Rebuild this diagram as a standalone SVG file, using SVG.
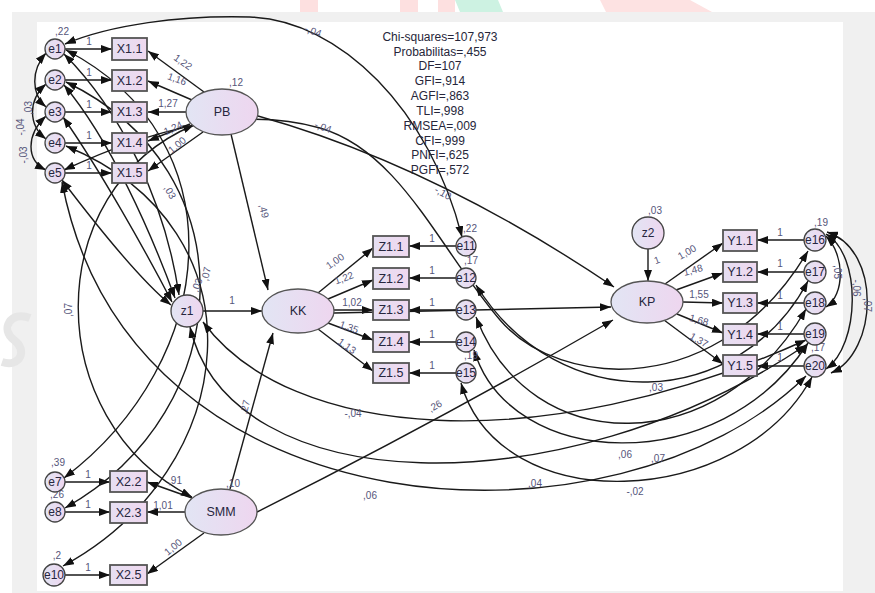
<svg xmlns="http://www.w3.org/2000/svg" width="875" height="593" viewBox="0 0 875 593">
<defs>
<linearGradient id="lg" x1="0" y1="0" x2="1" y2="0"><stop offset="0" stop-color="#e2e5f4"/><stop offset="1" stop-color="#eed6ef"/></linearGradient>
<linearGradient id="bg" x1="0" y1="0" x2="1" y2="0"><stop offset="0" stop-color="#e6dff2"/><stop offset="1" stop-color="#efd8ef"/></linearGradient>
<marker id="ah" viewBox="0 0 11 8" refX="11" refY="4" markerWidth="11" markerHeight="8" markerUnits="userSpaceOnUse" orient="auto-start-reverse"><path d="M0,0 L11,4 L0,8 z" fill="#111"/></marker>
<style>
.ln{fill:none;stroke:#1a1a1a;stroke-width:1.4;marker-end:url(#ah)}
.cv{fill:none;stroke:#1a1a1a;stroke-width:1.4;marker-start:url(#ah);marker-end:url(#ah)}
.box{fill:url(#bg);stroke:#555;stroke-width:1.8}
.ell{fill:url(#lg);stroke:#555;stroke-width:1.3}
.cir{fill:url(#lg);stroke:#444;stroke-width:1.3}
.nt{font-family:"Liberation Sans",Arial,sans-serif;font-size:12.5px;fill:#26263e;text-anchor:middle;dominant-baseline:central}
.et{font-family:"Liberation Sans",Arial,sans-serif;font-size:12px;fill:#26263e;text-anchor:middle;dominant-baseline:central}
.pl{font-family:"Liberation Sans",Arial,sans-serif;font-size:10px;fill:#55557a;text-anchor:middle;dominant-baseline:central}
.st{font-family:"Liberation Sans",Arial,sans-serif;font-size:12px;fill:#26263a;text-anchor:middle}
</style>
</defs>
<rect x="0" y="0" width="875" height="593" fill="#ffffff"/>
<rect x="300" y="0" width="155" height="12" fill="#fde0e0"/>
<rect x="318" y="0" width="82" height="12" fill="#ffffff"/>
<rect x="418" y="0" width="20" height="12" fill="#ffffff"/>
<polygon points="455,0 498,0 503,12 460,12" fill="#cdf2e2"/>
<polygon points="600,0 690,0 712,12 606,12" fill="#fde2e2"/>
<rect x="12" y="12" width="863" height="581" fill="#f0f0f0"/>
<rect x="37" y="22" width="806" height="569" fill="#ffffff"/>
<path d="M30,318 C10,310 0,330 14,340 C28,350 20,368 2,362" fill="none" stroke="#e6e6e6" stroke-width="8"/>

<g id="connectors">
<path class="ln" d="M65,49 L112,49"/>
<path class="ln" d="M65,80 L112,80"/>
<path class="ln" d="M65,112 L112,112"/>
<path class="ln" d="M65,143 L112,143"/>
<path class="ln" d="M65,173 L112,173"/>
<path class="ln" d="M204,92 L148,51"/>
<path class="ln" d="M192,100 L148,81"/>
<path class="ln" d="M186,112 L148,112"/>
<path class="ln" d="M190,124 L148,141"/>
<path class="ln" d="M203,132 L148,171"/>
<path class="ln" d="M318,293 L373,248"/>
<path class="ln" d="M328,299 L373,280"/>
<path class="ln" d="M334,310 L373,310"/>
<path class="ln" d="M328,323 L373,340"/>
<path class="ln" d="M318,329 L373,371"/>
<path class="ln" d="M456,246 L409,246"/>
<path class="ln" d="M456,278 L409,278"/>
<path class="ln" d="M456,310 L409,310"/>
<path class="ln" d="M456,342 L409,342"/>
<path class="ln" d="M456,373 L409,373"/>
<path class="ln" d="M665,284 L723,243"/>
<path class="ln" d="M676,290 L723,273"/>
<path class="ln" d="M683,302 L723,303"/>
<path class="ln" d="M677,314 L723,333"/>
<path class="ln" d="M664,320 L723,364"/>
<path class="ln" d="M804,240 L757,240"/>
<path class="ln" d="M804,272 L757,272"/>
<path class="ln" d="M804,303 L757,303"/>
<path class="ln" d="M804,334 L757,334"/>
<path class="ln" d="M804,366 L757,366"/>
<path class="ln" d="M192,498 L147,482"/>
<path class="ln" d="M185,512 L147,512"/>
<path class="ln" d="M204,533 L147,574"/>
<path class="ln" d="M65,482 L110,482"/>
<path class="ln" d="M65,512 L110,512"/>
<path class="ln" d="M65,575 L110,575"/>
<path class="ln" d="M203,311 L262,311"/>
<path class="ln" d="M648,249 L648,281"/>
<path class="ln" d="M231,134 L268,290"/>
<path class="ln" d="M230,489 L273,333"/>
<path class="ln" d="M334,313 L611,307"/>
<path class="ln" d="M258,116 C380,150 500,210 614,287"/>
<path class="ln" d="M257,512 Q440,420 613,320"/>
<path class="cv" d="M46,53 C31,70 31,94 46,107"/>
<path class="cv" d="M46,84 C28,100 28,125 46,139"/>
<path class="cv" d="M46,116 C26,135 26,160 46,170"/>
<path class="cv" d="M64,54 C120,110 165,200 179,295"/>
<path class="cv" d="M64,85 C110,140 150,230 175,298"/>
<path class="cv" d="M63,117 C100,170 145,250 172,302"/>
<path class="cv" d="M62,180 C100,230 140,280 171,305"/>
<path class="cv" d="M66,50 C240,140 220,360 64,478"/>
<path class="cv" d="M66,82 C250,170 240,410 65,508"/>
<path class="cv" d="M66,146 C270,230 240,470 63,566"/>
<path class="cv" d="M194,125 C40,190 40,420 192,497"/>
<path class="cv" d="M65,44 C110,25 180,15 250,17 C340,20 430,110 462,237"/>
<path class="cv" d="M64,170 C150,130 240,105 320,128 C400,151 440,250 500,320 C560,390 720,400 808,251"/>
<path class="cv" d="M203,322 C290,440 540,460 806,340"/>
<path class="cv" d="M62,182 C130,540 620,560 806,376"/>
<path class="cv" d="M190,327 C230,500 560,510 806,345"/>
<path class="cv" d="M461,383 C500,520 740,510 812,377"/>
<path class="cv" d="M474,350 C510,470 720,480 808,343"/>
<path class="cv" d="M476,317 C530,460 720,460 806,309"/>
<path class="cv" d="M476,285 C560,420 740,410 808,281"/>
<path class="cv" d="M826,236 C845,255 845,295 826,307"/>
<path class="cv" d="M826,234 C862,255 860,345 826,369"/>
<path class="cv" d="M827,232 C882,250 878,352 831,373"/>
</g>

<g id="labels">
<text class="pl" x="62" y="31">,22</text>
<text class="pl" x="236" y="82">,12</text>
<text class="pl" x="89" y="41">1</text>
<text class="pl" x="89" y="72">1</text>
<text class="pl" x="89" y="104">1</text>
<text class="pl" x="89" y="135">1</text>
<text class="pl" x="89" y="165">1</text>
<text class="pl" transform="translate(183,62) rotate(35)">1,22</text>
<text class="pl" transform="translate(177,79) rotate(20)">1,16</text>
<text class="pl" x="168" y="103">1,27</text>
<text class="pl" transform="translate(173,128) rotate(-25)">1,24</text>
<text class="pl" transform="translate(177,145) rotate(-40)">1,00</text>
<text class="pl" transform="translate(28,108) rotate(-90)">,03</text>
<text class="pl" transform="translate(20,127) rotate(-90)">-,04</text>
<text class="pl" transform="translate(23,155) rotate(-90)">-,03</text>
<text class="pl" transform="translate(313,31) rotate(20)">-,04</text>
<text class="pl" transform="translate(323,127) rotate(20)">-,04</text>
<text class="pl" transform="translate(443,193) rotate(30)">-,10</text>
<text class="pl" transform="translate(170,192) rotate(60)">,03</text>
<text class="pl" transform="translate(197,285) rotate(-70)">,03</text>
<text class="pl" transform="translate(206,274) rotate(-78)">,07</text>
<text class="pl" transform="translate(264,211) rotate(76)">,49</text>
<text class="pl" x="232" y="300">1</text>
<text class="pl" transform="translate(68,310) rotate(-90)">,07</text>
<text class="pl" transform="translate(245,407) rotate(-75)">,27</text>
<text class="pl" transform="translate(435,406) rotate(-30)">,26</text>
<text class="pl" x="353" y="413">-,04</text>
<text class="pl" x="370" y="495">,06</text>
<text class="pl" x="535" y="483">,04</text>
<text class="pl" x="656" y="387">,03</text>
<text class="pl" x="625" y="454">,06</text>
<text class="pl" x="658" y="458">,07</text>
<text class="pl" x="635" y="491">-,02</text>
<text class="pl" x="655" y="210">,03</text>
<text class="pl" transform="translate(657,260) rotate(-20)">1</text>
<text class="pl" x="470" y="228">,22</text>
<text class="pl" x="471" y="260">,17</text>
<text class="pl" x="471" y="355">,19</text>
<text class="pl" x="432" y="238">1</text>
<text class="pl" x="432" y="270">1</text>
<text class="pl" x="432" y="302">1</text>
<text class="pl" x="432" y="334">1</text>
<text class="pl" x="432" y="365">1</text>
<text class="pl" transform="translate(335,261) rotate(-35)">1,00</text>
<text class="pl" transform="translate(344,278) rotate(-20)">1,22</text>
<text class="pl" x="352" y="302">1,02</text>
<text class="pl" transform="translate(349,327) rotate(20)">1,35</text>
<text class="pl" transform="translate(347,346) rotate(35)">1,13</text>
<text class="pl" transform="translate(687,252) rotate(-30)">1,00</text>
<text class="pl" transform="translate(693,270) rotate(-15)">1,48</text>
<text class="pl" x="699" y="294">1,55</text>
<text class="pl" transform="translate(699,320) rotate(15)">1,68</text>
<text class="pl" transform="translate(699,340) rotate(30)">1,37</text>
<text class="pl" x="780" y="232">1</text>
<text class="pl" x="780" y="263">1</text>
<text class="pl" x="780" y="295">1</text>
<text class="pl" x="780" y="326">1</text>
<text class="pl" x="780" y="357">1</text>
<text class="pl" x="821" y="222">,19</text>
<text class="pl" x="818" y="347">,17</text>
<text class="pl" transform="translate(837,272) rotate(90)">,05</text>
<text class="pl" transform="translate(856,288) rotate(90)">-,06</text>
<text class="pl" transform="translate(867,305) rotate(90)">,07</text>
<text class="pl" x="233" y="483">,10</text>
<text class="pl" x="175" y="480">,91</text>
<text class="pl" x="163" y="505">1,01</text>
<text class="pl" transform="translate(173,547) rotate(-40)">1,00</text>
<text class="pl" x="58" y="462">,39</text>
<text class="pl" x="57" y="494">,26</text>
<text class="pl" x="57" y="555">,2</text>
<text class="pl" x="88" y="474">1</text>
<text class="pl" x="88" y="504">1</text>
<text class="pl" x="88" y="567">1</text>
</g>

<g id="fit">
<text class="st" x="440" y="41">Chi-squares=107,973</text>
<text class="st" x="440" y="56">Probabilitas=,455</text>
<text class="st" x="440" y="70">DF=107</text>
<text class="st" x="440" y="85">GFI=,914</text>
<text class="st" x="440" y="100">AGFI=,863</text>
<text class="st" x="440" y="115">TLI=,998</text>
<text class="st" x="440" y="130">RMSEA=,009</text>
<text class="st" x="440" y="145">CFI=,999</text>
<text class="st" x="440" y="159">PNFI=,625</text>
<text class="st" x="440" y="174">PGFI=,572</text>
</g>

<g id="e1"><circle class="cir" cx="55" cy="49" r="10"/><text class="et" x="55" y="49">e1</text></g>
<g id="e2"><circle class="cir" cx="55" cy="80" r="10"/><text class="et" x="55" y="80">e2</text></g>
<g id="e3"><circle class="cir" cx="55" cy="112" r="10"/><text class="et" x="55" y="112">e3</text></g>
<g id="e4"><circle class="cir" cx="55" cy="143" r="10"/><text class="et" x="55" y="143">e4</text></g>
<g id="e5"><circle class="cir" cx="55" cy="173" r="10"/><text class="et" x="55" y="173">e5</text></g>
<g id="X1.1"><rect class="box" x="112" y="38" width="35" height="22"/><text class="nt" x="129.5" y="49">X1.1</text></g>
<g id="X1.2"><rect class="box" x="112" y="70" width="35" height="21"/><text class="nt" x="129.5" y="80.5">X1.2</text></g>
<g id="X1.3"><rect class="box" x="112" y="102" width="35" height="20"/><text class="nt" x="129.5" y="112">X1.3</text></g>
<g id="X1.4"><rect class="box" x="112" y="133" width="35" height="20"/><text class="nt" x="129.5" y="143">X1.4</text></g>
<g id="X1.5"><rect class="box" x="112" y="163" width="35" height="20"/><text class="nt" x="129.5" y="173">X1.5</text></g>
<g id="PB"><ellipse class="ell" cx="222" cy="112" rx="36" ry="23"/><text class="nt" x="222" y="112">PB</text></g>
<g id="z1"><circle class="cir" cx="187" cy="311" r="16"/><text class="et" x="187" y="311">z1</text></g>
<g id="KK"><ellipse class="ell" cx="298" cy="311" rx="36" ry="22"/><text class="nt" x="298" y="311">KK</text></g>
<g id="Z1.1"><rect class="box" x="373" y="236" width="36" height="21"/><text class="nt" x="391" y="246.5">Z1.1</text></g>
<g id="Z1.2"><rect class="box" x="373" y="268" width="36" height="21"/><text class="nt" x="391" y="278.5">Z1.2</text></g>
<g id="Z1.3"><rect class="box" x="373" y="300" width="36" height="20"/><text class="nt" x="391" y="310">Z1.3</text></g>
<g id="Z1.4"><rect class="box" x="373" y="332" width="36" height="20"/><text class="nt" x="391" y="342">Z1.4</text></g>
<g id="Z1.5"><rect class="box" x="373" y="363" width="36" height="20"/><text class="nt" x="391" y="373">Z1.5</text></g>
<g id="e11"><circle class="cir" cx="466" cy="246" r="10"/><text class="et" x="466" y="246">e11</text></g>
<g id="e12"><circle class="cir" cx="466" cy="278" r="10"/><text class="et" x="466" y="278">e12</text></g>
<g id="e13"><circle class="cir" cx="466" cy="310" r="10"/><text class="et" x="466" y="310">e13</text></g>
<g id="e14"><circle class="cir" cx="466" cy="342" r="10"/><text class="et" x="466" y="342">e14</text></g>
<g id="e15"><circle class="cir" cx="466" cy="373" r="10"/><text class="et" x="466" y="373">e15</text></g>
<g id="z2"><circle class="cir" cx="648" cy="233" r="16"/><text class="et" x="648" y="233">z2</text></g>
<g id="KP"><ellipse class="ell" cx="647" cy="302" rx="36" ry="21"/><text class="nt" x="647" y="302">KP</text></g>
<g id="Y1.1"><rect class="box" x="723" y="230" width="34" height="21"/><text class="nt" x="740" y="240.5">Y1.1</text></g>
<g id="Y1.2"><rect class="box" x="723" y="262" width="34" height="20"/><text class="nt" x="740" y="272">Y1.2</text></g>
<g id="Y1.3"><rect class="box" x="723" y="293" width="34" height="20"/><text class="nt" x="740" y="303">Y1.3</text></g>
<g id="Y1.4"><rect class="box" x="723" y="324" width="34" height="21"/><text class="nt" x="740" y="334.5">Y1.4</text></g>
<g id="Y1.5"><rect class="box" x="723" y="355" width="34" height="21"/><text class="nt" x="740" y="365.5">Y1.5</text></g>
<g id="e16"><circle class="cir" cx="815" cy="240" r="11"/><text class="et" x="815" y="240">e16</text></g>
<g id="e17"><circle class="cir" cx="815" cy="272" r="11"/><text class="et" x="815" y="272">e17</text></g>
<g id="e18"><circle class="cir" cx="815" cy="303" r="11"/><text class="et" x="815" y="303">e18</text></g>
<g id="e19"><circle class="cir" cx="815" cy="334" r="11"/><text class="et" x="815" y="334">e19</text></g>
<g id="e20"><circle class="cir" cx="815" cy="366" r="11"/><text class="et" x="815" y="366">e20</text></g>
<g id="SMM"><ellipse class="ell" cx="221" cy="512" rx="36" ry="23"/><text class="nt" x="221" y="512">SMM</text></g>
<g id="X2.2"><rect class="box" x="110" y="471" width="37" height="21"/><text class="nt" x="128.5" y="481.5">X2.2</text></g>
<g id="X2.3"><rect class="box" x="110" y="502" width="37" height="21"/><text class="nt" x="128.5" y="512.5">X2.3</text></g>
<g id="X2.5"><rect class="box" x="110" y="565" width="37" height="20"/><text class="nt" x="128.5" y="575">X2.5</text></g>
<g id="e7"><circle class="cir" cx="55" cy="482" r="10"/><text class="et" x="55" y="482">e7</text></g>
<g id="e8"><circle class="cir" cx="55" cy="512" r="10"/><text class="et" x="55" y="512">e8</text></g>
<g id="e10"><circle class="cir" cx="54" cy="575" r="11"/><text class="et" x="54" y="575">e10</text></g>
</svg>
